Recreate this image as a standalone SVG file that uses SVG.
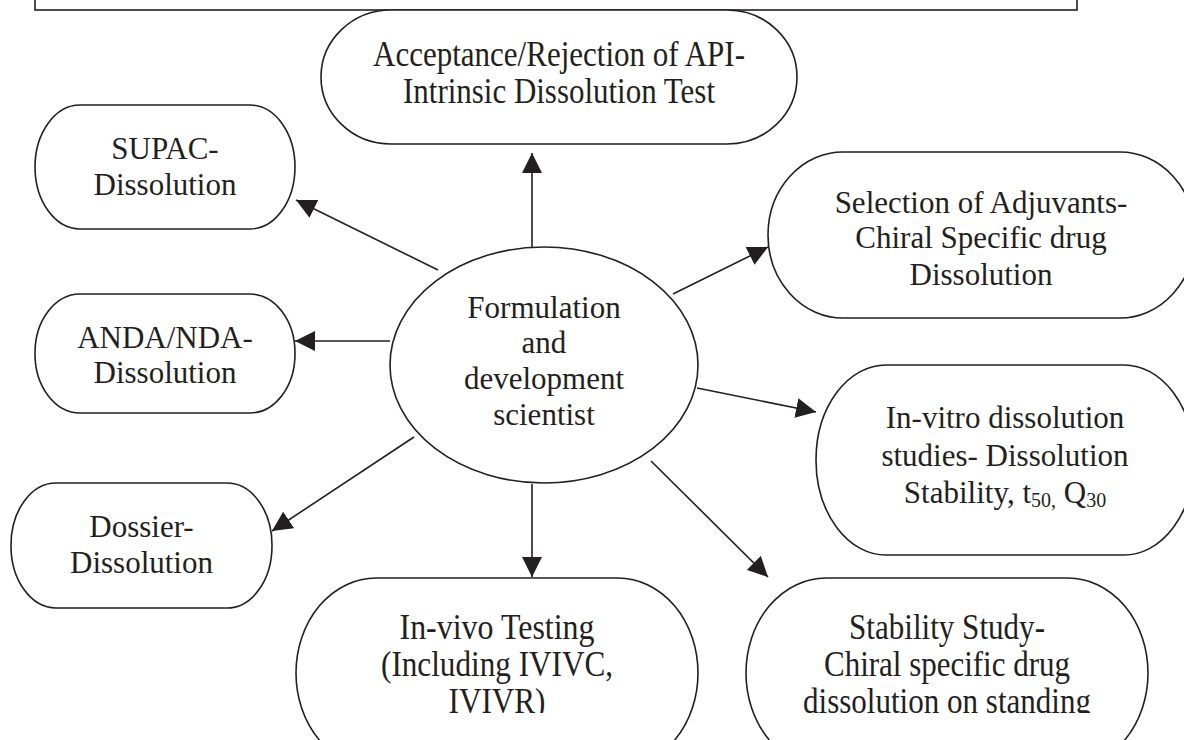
<svg xmlns="http://www.w3.org/2000/svg" width="1184" height="740" viewBox="0 0 1184 740">
<defs>
<style>
.n{fill:#fff;stroke:#231f20;stroke-width:1.6}
.t{font-family:"Liberation Serif","Times New Roman",serif;font-size:31px;fill:#231f20;text-anchor:middle}
.c{font-family:"Liberation Serif","Times New Roman",serif;font-size:36px;fill:#231f20;text-anchor:middle}
.e{stroke:#231f20;stroke-width:1.6;fill:none;marker-end:url(#ah)}
</style>
<marker id="ah" markerUnits="userSpaceOnUse" markerWidth="20" markerHeight="20" refX="20" refY="10" orient="auto">
<path d="M0,0 L20,10 L0,20 z" fill="#231f20"/>
</marker>
<clipPath id="cb"><rect x="0" y="0" width="1184" height="713"/></clipPath>
</defs>
<rect id="frame" class="n" x="35" y="-20" width="1042" height="30"/>
<g id="connectors">
<line class="e" x1="532" y1="247" x2="532" y2="153"/>
<line class="e" x1="438" y1="270" x2="296" y2="200"/>
<line class="e" x1="390" y1="341" x2="295" y2="341"/>
<line class="e" x1="414" y1="437" x2="272" y2="531"/>
<line class="e" x1="532" y1="484" x2="532" y2="577"/>
<line class="e" x1="651" y1="461" x2="768" y2="577"/>
<line class="e" x1="697" y1="388" x2="816" y2="412"/>
<line class="e" x1="673" y1="294" x2="768" y2="247"/>
</g>
<g id="acceptance">
<rect class="n" x="321" y="10" width="476" height="134" rx="70" ry="67"/>
<text class="c" x="559" y="66" textLength="372" lengthAdjust="spacingAndGlyphs">Acceptance/Rejection of API-</text>
<text class="c" x="559" y="103" textLength="312" lengthAdjust="spacingAndGlyphs">Intrinsic Dissolution Test</text>
</g>
<g id="supac">
<rect class="n" x="35" y="105" width="260" height="124" rx="45" ry="62"/>
<text class="t" x="165" y="159">SUPAC-</text>
<text class="t" x="165" y="195">Dissolution</text>
</g>
<g id="anda">
<rect class="n" x="35" y="294" width="260" height="119" rx="45" ry="59"/>
<text class="t" x="165" y="348">ANDA/NDA-</text>
<text class="t" x="165" y="383">Dissolution</text>
</g>
<g id="dossier">
<rect class="n" x="11" y="483" width="261" height="125" rx="45" ry="62"/>
<text class="t" x="141.5" y="537">Dossier-</text>
<text class="t" x="141.5" y="573">Dissolution</text>
</g>
<g id="scientist">
<ellipse class="n" cx="544" cy="365" rx="154" ry="118"/>
<text class="t" x="544" y="318">Formulation</text>
<text class="t" x="544" y="353">and</text>
<text class="t" x="544" y="389">development</text>
<text class="t" x="544" y="425">scientist</text>
</g>
<g id="selection">
<rect class="n" x="768" y="152" width="427" height="166" rx="75" ry="83"/>
<text class="t" x="981" y="213">Selection of Adjuvants-</text>
<text class="t" x="981" y="248">Chiral Specific drug</text>
<text class="t" x="981" y="285">Dissolution</text>
</g>
<g id="invitro">
<rect class="n" x="816" y="365" width="378" height="190" rx="70" ry="95"/>
<text class="t" x="1005" y="428">In-vitro dissolution</text>
<text class="t" x="1005" y="466">studies- Dissolution</text>
<text class="t" x="1005" y="503">Stability, t<tspan font-size="20" dy="4">50,</tspan><tspan dy="-4"> Q</tspan><tspan font-size="20" dy="4">30</tspan></text>
</g>
<g id="invivo">
<rect class="n" x="296" y="578" width="402" height="190" rx="80" ry="95"/>
<g clip-path="url(#cb)">
<text class="c" x="497" y="639" textLength="195" lengthAdjust="spacingAndGlyphs">In-vivo Testing</text>
<text class="c" x="497" y="676" textLength="232" lengthAdjust="spacingAndGlyphs">(Including IVIVC,</text>
<text class="c" x="497" y="713" textLength="97" lengthAdjust="spacingAndGlyphs">IVIVR)</text>
</g>
</g>
<g id="stability">
<rect class="n" x="746" y="578" width="402" height="190" rx="80" ry="95"/>
<g clip-path="url(#cb)">
<text class="c" x="947" y="639" textLength="196" lengthAdjust="spacingAndGlyphs">Stability Study-</text>
<text class="c" x="947" y="676" textLength="246" lengthAdjust="spacingAndGlyphs">Chiral specific drug</text>
<text class="c" x="947" y="713" textLength="288" lengthAdjust="spacingAndGlyphs">dissolution on standing</text>
</g>
</g>
</svg>
